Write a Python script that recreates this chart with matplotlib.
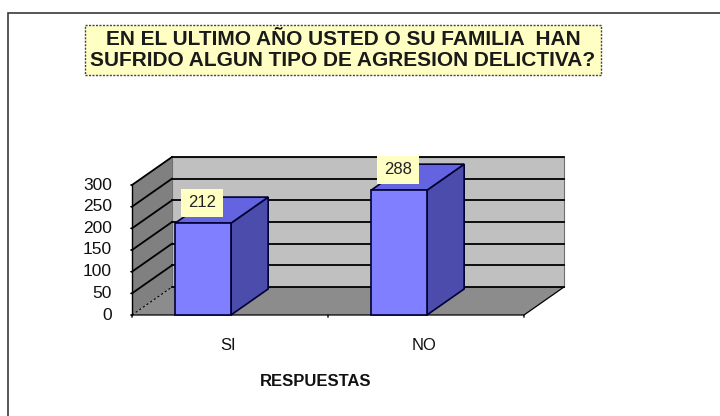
import numpy as np
import matplotlib
matplotlib.use("Agg")
import matplotlib.pyplot as plt
from matplotlib.patches import Polygon, Rectangle

# --- data ---
categories = ["SI", "NO"]
values     = [212, 288]
y_ticks    = [0, 50, 100, 150, 200, 250, 300]
title      = "EN EL ULTIMO AÑO USTED O SU FAMILIA  HAN\nSUFRIDO ALGUN TIPO DE AGRESION DELICTIVA?"
x_label    = "RESPUESTAS"

# --- style ---
W, H, DPI = 720, 416, 100
PX        = 72 / DPI        # points per pixel
FONT      = "Liberation Sans"
DX, DY    = 0.204, 64.6     # depth offset of the 3d box (category units, value units)
BAR_L, BAR_R = 0.22, 0.505  # bar front face inside each category
BAR_DEPTH = 0.93            # fraction of the full depth used by bars

C_BACK  = "#c0c0c0"
C_SIDE  = "#808080"
C_FLOOR = "#8c8c8c"
C_FRONT = "#7f7fff"
C_TOP   = "#6464e0"
C_RIGHT = "#4c4cac"
C_EDGE  = "#000033"

fig = plt.figure(figsize=(W / DPI, H / DPI), dpi=DPI)
fig.patch.set_facecolor("white")

# outer frame of the chart area
fig.patches.append(Rectangle((8 / W, -0.1), 1.2, 1 - 13 / H + 0.1, transform=fig.transFigure,
                             fill=False, edgecolor="#3a3a3a", linewidth=1.2))

ymax = y_ticks[-1]
n = len(categories)
ax = fig.add_axes([132 / W, 101 / H, 392 / W, 130 / H])
ax.set_xlim(0, n)
ax.set_ylim(0, ymax)
ax.axis("off")


def poly(pts, fc, ec="black", lw=1.0, z=1, ls="-"):
    ax.add_patch(Polygon(pts, closed=True, facecolor=fc, edgecolor=ec,
                         linewidth=lw, linestyle=ls, zorder=z, clip_on=False))


# walls and floor
poly([(DX, DY), (n + DX, DY), (n + DX, ymax + DY), (DX, ymax + DY)], C_BACK, ec="#707070", lw=0.8)
poly([(0, 0), (DX, DY), (DX, ymax + DY), (0, ymax)], C_SIDE, ec="none")
poly([(0, 0), (n, 0), (n + DX, DY), (DX, DY)], C_FLOOR, ec="none")

# gridlines on side and back wall
for v in y_ticks:
    if v == 0:
        ax.plot([0, DX], [0, DY], color="black", lw=0.8, ls=(0, (2, 2)), clip_on=False, zorder=2)
    else:
        ax.plot([0, DX], [v, v + DY], color="black", lw=1.3, clip_on=False, zorder=2)
    ax.plot([DX, n + DX], [v + DY, v + DY], color="black", lw=1.3, clip_on=False, zorder=2)

# floor edges
ax.plot([0, n, n + DX], [0, 0, DY], color="black", lw=0.9, clip_on=False, zorder=2)

# axes lines and ticks
ax.plot([0, 0], [0, ymax], color="black", lw=1.0, clip_on=False, zorder=6)
for v in y_ticks:
    ax.annotate("", xy=(0, v), xytext=(-4 * PX, 0), textcoords="offset points",
                arrowprops=dict(arrowstyle="-", color="black", lw=1.0), zorder=6)
    ax.annotate(str(v), xy=(0, v), xytext=(-20 * PX, 0), textcoords="offset points",
                ha="right", va="center", fontsize=12.5, family=FONT, color="#111111")
for i in range(n + 1):
    ax.annotate("", xy=(i, 0), xytext=(0, -5 * PX), textcoords="offset points",
                arrowprops=dict(arrowstyle="-", color="black", lw=1.0))
for i, c in enumerate(categories):
    ax.annotate(c, xy=(i + 0.5, 0), xytext=(-2 * PX, -30 * PX), textcoords="offset points",
                ha="center", va="center", fontsize=12, family=FONT, color="#111111")

ax.annotate(x_label, xy=(n / 2, 0), xytext=(-12 * PX, -67 * PX), textcoords="offset points",
            ha="center", va="center", fontsize=12, family=FONT, fontweight="bold",
            color="#111111")

# bars
bdx, bdy = DX * BAR_DEPTH, DY * BAR_DEPTH
for i, v in enumerate(values):
    x0, x1 = i + BAR_L, i + BAR_R
    poly([(x1, 0), (x1 + bdx, bdy), (x1 + bdx, v + bdy), (x1, v)], C_RIGHT, ec=C_EDGE, lw=1.2, z=4)
    poly([(x0, v), (x1, v), (x1 + bdx, v + bdy), (x0 + bdx, v + bdy)], C_TOP, ec=C_EDGE, lw=1.2, z=4)
    poly([(x0, 0), (x1, 0), (x1, v), (x0, v)], C_FRONT, ec=C_EDGE, lw=1.2, z=5)
    ax.text(i + (BAR_L + BAR_R) / 2 - 0.005, v + DY * 0.73, str(v), ha="center", va="center",
            fontsize=12, family=FONT, color="#222222", zorder=7,
            bbox=dict(boxstyle="square,pad=0.4", facecolor="#ffffc4", edgecolor="none"))

# title box
fig.text(343 / W, 1 - 50 / H, title, ha="center", va="center", fontsize=15,
         family=FONT, fontweight="bold", color="#1a1a1a", linespacing=1.1,
         bbox=dict(boxstyle="square,pad=0.25", facecolor="#ffffc4", edgecolor="#444444",
                   linestyle=(0, (1.5, 1)), linewidth=1.0))

fig.savefig("out.png", dpi=DPI)
